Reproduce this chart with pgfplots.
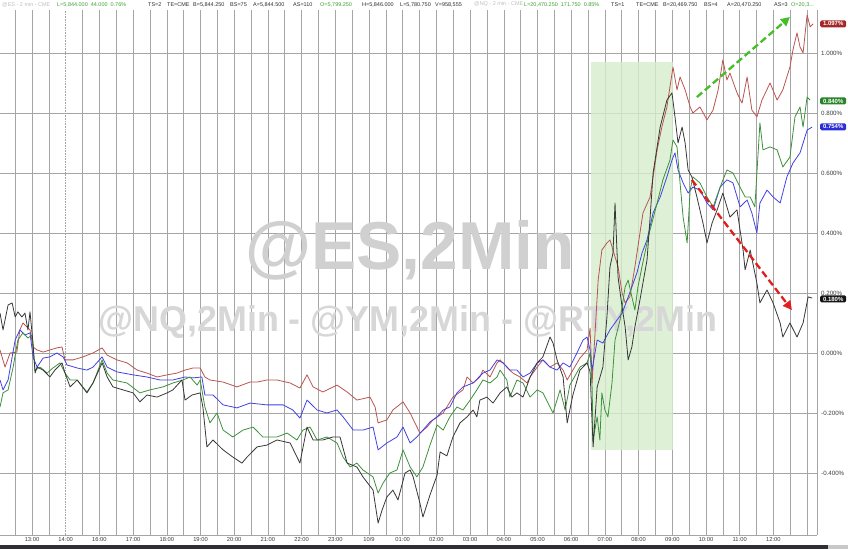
\documentclass[border=0pt]{standalone}
\usepackage{pgfplots}
\pgfplotsset{compat=1.18}
\usepackage{fontspec}
\setmainfont{Liberation Sans}
\usetikzlibrary{arrows.meta}
\definecolor{cred}{RGB}{185,85,80}
\definecolor{cblue}{RGB}{65,65,228}
\definecolor{cgreen}{RGB}{60,145,60}
\definecolor{cblack}{RGB}{55,55,55}
\definecolor{gridc}{RGB}{165,165,165}
\definecolor{hdrgreen}{RGB}{60,160,50}
\definecolor{hdrtxt}{RGB}{45,45,45}
\definecolor{hdrlight}{RGB}{190,190,190}
\definecolor{shade}{RGB}{214,238,205}
\definecolor{wmA}{RGB}{208,208,208}
\definecolor{wmB}{RGB}{215,215,215}
\definecolor{arrG}{RGB}{70,190,40}
\definecolor{arrR}{RGB}{225,30,30}
\definecolor{boxR}{RGB}{165,40,40}
\definecolor{boxG}{RGB}{40,130,40}
\definecolor{boxB}{RGB}{45,45,215}
\definecolor{boxK}{RGB}{20,20,20}
\definecolor{tlab}{RGB}{60,60,60}
\definecolor{barc}{RGB}{48,48,52}
\definecolor{scrollc}{RGB}{200,200,200}
\begin{document}
\begin{tikzpicture}[x=1bp,y=1bp]
\path[use as bounding box] (0,0) rectangle (848,549);
\fill[barc] (0,0) rectangle (848,4);
\fill[scrollc] (828,0) rectangle (848,4);
\begin{axis}[
  at={(0bp,14bp)}, anchor=south west,
  scale only axis, width=817bp, height=525bp,
  xmin=-0.95, xmax=23.294, ymin=-0.6067, ymax=1.1433,
  axis x line*=bottom, axis y line*=right,
  axis line style={gridc, line width=0.6bp},
  clip=false,
  major tick length=0pt, minor tick length=0pt,
  xtick={0,2,3,...,22},
  xticklabels={13:00,16:00,17:00,18:00,19:00,20:00,21:00,22:00,23:00,10/9,01:00,02:00,03:00,04:00,05:00,06:00,07:00,08:00,09:00,10:00,11:00,12:00},
  extra x ticks={1}, extra x tick labels={14:00},
  extra x tick style={major grid style={gridc, densely dotted, line width=0.8bp}},
  minor xtick={-0.5,0.5,...,22.5,23},
  xmajorgrids, xminorgrids, ymajorgrids,
  grid style={gridc, line width=0.6bp},
  minor grid style={gridc, line width=0.6bp},
  ytick={-0.4,-0.2,0,0.2,0.4,0.6,0.8,1.0},
  yticklabels={-0.400\%,-0.200\%,0.000\%,0.200\%,0.400\%,0.600\%,0.800\%,1.000\%},
  xticklabel style={font=\fontsize{5.8}{6}\selectfont, text=tlab, inner sep=0pt, anchor=north, yshift=-2bp},
  yticklabel style={font=\fontsize{6.2}{7}\selectfont, text=tlab, inner sep=0pt, anchor=west, xshift=4bp},
]
% shaded window
\addplot[draw=none, fill=shade, fill opacity=0.8, forget plot] coordinates {(16.59,-0.323) (19.02,-0.323) (19.02,0.970) (16.59,0.970)} -- cycle;
% watermarks
\node[anchor=base, text=wmA, font=\fontsize{68}{70}\selectfont\bfseries] at (axis cs:11.22,0.277) {@ES,2Min};
\node[anchor=base, text=wmB, font=\fontsize{36}{38}\selectfont\bfseries] at (axis cs:11.16,0.073) {@NQ,2Min - @YM,2Min - @RTY,2Min};
% NQ (red)
\addplot[cred, line width=0.8bp, line join=round] coordinates {
(-0.95,0.010) (-0.80,-0.047) (-0.65,0.000) (-0.45,0.003) (-0.36,0.077) (-0.27,0.100) (-0.06,0.077) (0.03,0.020) (0.15,0.010) (0.33,0.003) (0.53,0.010) (0.74,0.017) (0.89,0.020) (0.98,-0.023) (1.22,-0.023) (1.51,-0.013) (1.81,0.000) (2.08,0.017) (2.23,-0.007) (2.52,-0.023) (2.82,-0.033) (3.12,-0.057) (3.41,-0.067) (3.71,-0.080) (4.01,-0.073) (4.30,-0.067) (4.54,-0.057) (4.78,-0.050) (4.99,-0.050) (5.13,-0.080) (5.28,-0.090) (5.67,-0.097) (6.08,-0.113) (6.47,-0.097) (6.68,-0.097) (6.97,-0.090) (7.27,-0.090) (7.66,-0.100) (7.95,-0.117) (8.16,-0.073) (8.34,-0.113) (8.63,-0.130) (9.05,-0.107) (9.35,-0.130) (9.64,-0.157) (10.03,-0.147) (10.18,-0.180) (10.27,-0.233) (10.53,-0.223) (10.71,-0.190) (11.01,-0.163) (11.22,-0.200) (11.51,-0.267) (11.72,-0.247) (11.90,-0.223) (12.20,-0.200) (12.49,-0.147) (12.79,-0.123) (12.91,-0.080) (13.09,-0.100) (13.29,-0.080) (13.38,-0.057) (13.59,-0.080) (13.80,-0.033) (13.89,-0.023) (14.09,-0.047) (14.27,-0.067) (14.48,-0.080) (14.69,-0.100) (14.78,-0.080) (14.99,-0.047) (15.16,-0.023) (15.37,-0.047) (15.58,-0.033) (15.76,-0.057) (15.88,-0.090) (16.05,-0.057) (16.26,-0.017) (16.47,0.010) (16.56,0.083) (16.62,-0.100) (16.80,0.243) (16.91,0.343) (17.06,0.367) (17.15,0.377) (17.39,0.287) (17.51,0.200) (17.60,0.167) (17.74,0.187) (17.89,0.287) (18.04,0.400) (18.13,0.467) (18.34,0.520) (18.55,0.677) (18.69,0.753) (18.84,0.820) (18.93,0.887) (19.02,0.953) (19.14,0.877) (19.23,0.920) (19.38,0.877) (19.53,0.820) (19.61,0.800) (19.82,0.820) (20.03,0.777) (20.21,0.810) (20.36,0.877) (20.50,0.977) (20.62,0.910) (20.71,0.933) (20.92,0.867) (21.07,0.833) (21.22,0.920) (21.36,0.810) (21.51,0.787) (21.66,0.843) (21.90,0.900) (22.11,0.843) (22.28,0.877) (22.49,0.953) (22.58,1.010) (22.70,1.067) (22.79,1.020) (22.88,1.000) (23.00,1.127) (23.09,1.087) (23.18,1.097)
};
% YM (blue)
\addplot[cblue, line width=0.8bp, line join=round] coordinates {
(-0.95,-0.090) (-0.86,-0.123) (-0.71,-0.090) (-0.50,0.043) (-0.36,0.077) (-0.21,0.060) (-0.06,0.067) (0.03,-0.013) (0.15,-0.047) (0.33,-0.017) (0.53,-0.013) (0.74,0.000) (0.92,-0.013) (1.04,-0.040) (1.34,-0.050) (1.63,-0.057) (1.81,-0.047) (2.08,-0.013) (2.23,-0.047) (2.52,-0.063) (3.00,-0.073) (3.41,-0.080) (3.80,-0.090) (4.18,-0.090) (4.54,-0.080) (4.78,-0.083) (5.04,-0.080) (5.13,-0.140) (5.37,-0.140) (5.67,-0.173) (6.08,-0.183) (6.47,-0.167) (6.97,-0.173) (7.45,-0.173) (7.74,-0.190) (7.95,-0.217) (8.16,-0.157) (8.46,-0.190) (8.75,-0.200) (9.05,-0.190) (9.23,-0.213) (9.53,-0.257) (9.82,-0.257) (10.12,-0.247) (10.27,-0.323) (10.53,-0.300) (10.83,-0.280) (11.01,-0.247) (11.22,-0.300) (11.42,-0.280) (11.60,-0.257) (11.81,-0.230) (12.02,-0.213) (12.20,-0.190) (12.40,-0.180) (12.61,-0.133) (12.79,-0.113) (13.09,-0.100) (13.38,-0.067) (13.59,-0.057) (13.80,-0.023) (13.98,-0.033) (14.18,-0.057) (14.39,-0.057) (14.57,-0.080) (14.78,-0.067) (14.99,-0.033) (15.16,-0.023) (15.37,-0.047) (15.58,-0.057) (15.76,-0.033) (15.96,-0.047) (16.17,0.000) (16.35,0.043) (16.47,0.053) (16.56,0.010) (16.62,-0.057) (16.77,0.043) (16.94,0.033) (17.15,0.077) (17.36,0.110) (17.51,0.133) (17.66,0.177) (17.80,0.220) (17.95,0.267) (18.10,0.333) (18.25,0.377) (18.43,0.467) (18.64,0.520) (18.84,0.587) (18.99,0.643) (19.08,0.667) (19.17,0.610) (19.32,0.567) (19.47,0.533) (19.61,0.553) (19.82,0.543) (20.03,0.500) (20.21,0.477) (20.42,0.553) (20.62,0.577) (20.80,0.567) (21.01,0.487) (21.22,0.510) (21.36,0.467) (21.51,0.400) (21.60,0.500) (21.81,0.543) (21.99,0.520) (22.20,0.500) (22.40,0.587) (22.58,0.633) (22.79,0.667) (23.00,0.743) (23.15,0.753)
};
% RTY (green)
\addplot[cgreen, line width=0.8bp, line join=round] coordinates {
(-0.95,-0.180) (-0.86,-0.133) (-0.71,-0.123) (-0.56,-0.047) (-0.42,0.043) (-0.27,0.067) (-0.12,0.050) (0.00,0.060) (0.09,-0.057) (0.24,-0.047) (0.45,-0.067) (0.62,-0.050) (0.83,-0.033) (0.98,-0.067) (1.13,-0.090) (1.34,-0.090) (1.63,-0.130) (1.81,-0.100) (2.08,-0.023) (2.23,-0.067) (2.40,-0.090) (2.82,-0.100) (3.20,-0.133) (3.50,-0.123) (3.89,-0.113) (4.18,-0.100) (4.48,-0.090) (4.69,-0.080) (4.90,-0.107) (4.99,-0.090) (5.13,-0.180) (5.28,-0.233) (5.49,-0.200) (5.67,-0.257) (5.96,-0.280) (6.26,-0.257) (6.56,-0.247) (6.85,-0.280) (7.27,-0.280) (7.57,-0.267) (7.86,-0.290) (8.04,-0.257) (8.25,-0.247) (8.46,-0.290) (8.75,-0.280) (9.05,-0.300) (9.23,-0.347) (9.44,-0.380) (9.64,-0.367) (9.82,-0.390) (10.12,-0.413) (10.27,-0.467) (10.42,-0.433) (10.62,-0.400) (10.83,-0.390) (11.01,-0.323) (11.22,-0.380) (11.42,-0.413) (11.60,-0.380) (11.81,-0.307) (12.02,-0.240) (12.20,-0.257) (12.40,-0.213) (12.61,-0.180) (12.79,-0.190) (13.00,-0.157) (13.20,-0.123) (13.38,-0.090) (13.59,-0.100) (13.80,-0.080) (13.89,-0.057) (14.09,-0.090) (14.18,-0.147) (14.39,-0.090) (14.57,-0.100) (14.78,-0.147) (14.99,-0.123) (15.16,-0.133) (15.37,-0.180) (15.46,-0.200) (15.67,-0.123) (15.82,-0.190) (15.96,-0.107) (16.26,-0.047) (16.47,-0.033) (16.56,0.000) (16.62,-0.113) (16.65,-0.290) (16.77,-0.213) (16.85,-0.290) (16.91,-0.133) (17.00,-0.190) (17.09,-0.213) (17.21,-0.100) (17.30,0.043) (17.45,0.110) (17.60,0.220) (17.69,0.243) (17.80,0.187) (17.89,0.143) (17.98,0.220) (18.10,0.287) (18.25,0.367) (18.34,0.410) (18.55,0.500) (18.72,0.577) (18.93,0.643) (19.02,0.710) (19.14,0.687) (19.23,0.567) (19.32,0.453) (19.44,0.367) (19.53,0.543) (19.61,0.587) (19.82,0.567) (20.03,0.520) (20.21,0.487) (20.42,0.553) (20.62,0.610) (20.80,0.600) (21.01,0.553) (21.16,0.520) (21.31,0.520) (21.45,0.487) (21.60,0.767) (21.69,0.677) (21.90,0.687) (22.11,0.677) (22.28,0.620) (22.49,0.653) (22.64,0.787) (22.79,0.820) (22.88,0.753) (23.00,0.853) (23.09,0.843)
};
% ES (black)
\addplot[cblack, line width=0.8bp, line join=round] coordinates {
(-0.95,0.133) (-0.86,0.077) (-0.71,0.160) (-0.59,0.167) (-0.50,0.120) (-0.42,0.137) (-0.30,0.120) (-0.21,0.133) (-0.12,0.077) (-0.06,0.137) (0.03,0.033) (0.09,-0.067) (0.15,-0.047) (0.33,-0.057) (0.53,-0.080) (0.68,-0.057) (0.89,-0.033) (0.98,-0.067) (1.13,-0.113) (1.34,-0.090) (1.63,-0.133) (1.81,-0.100) (2.08,-0.033) (2.23,-0.080) (2.40,-0.113) (2.70,-0.123) (3.00,-0.133) (3.20,-0.163) (3.41,-0.140) (3.71,-0.147) (4.01,-0.133) (4.18,-0.123) (4.45,-0.090) (4.54,-0.157) (4.75,-0.140) (4.99,-0.133) (5.07,-0.180) (5.19,-0.313) (5.37,-0.290) (5.67,-0.323) (5.96,-0.347) (6.23,-0.367) (6.38,-0.347) (6.68,-0.313) (6.97,-0.307) (7.27,-0.290) (7.66,-0.300) (7.95,-0.367) (8.16,-0.247) (8.34,-0.290) (8.63,-0.290) (8.93,-0.280) (9.14,-0.280) (9.35,-0.367) (9.64,-0.380) (9.82,-0.413) (10.12,-0.457) (10.27,-0.567) (10.39,-0.523) (10.53,-0.480) (10.71,-0.457) (10.86,-0.490) (11.07,-0.400) (11.22,-0.390) (11.31,-0.413) (11.51,-0.500) (11.60,-0.547) (11.81,-0.473) (12.02,-0.407) (12.11,-0.330) (12.31,-0.343) (12.49,-0.280) (12.70,-0.233) (12.91,-0.213) (13.09,-0.190) (13.20,-0.213) (13.29,-0.157) (13.50,-0.147) (13.68,-0.167) (13.89,-0.133) (14.09,-0.113) (14.24,-0.147) (14.39,-0.133) (14.57,-0.147) (14.78,-0.080) (14.99,-0.033) (15.16,-0.013) (15.37,0.053) (15.46,0.033) (15.58,-0.023) (15.76,-0.080) (15.88,-0.233) (16.05,-0.140) (16.26,-0.057) (16.35,-0.047) (16.47,-0.033) (16.56,-0.063) (16.65,-0.313) (16.77,-0.113) (16.94,-0.047) (17.06,0.120) (17.15,0.287) (17.24,0.333) (17.30,0.500) (17.39,0.253) (17.51,0.153) (17.60,0.087) (17.69,-0.023) (17.80,0.020) (17.89,0.087) (18.04,0.177) (18.25,0.310) (18.34,0.450) (18.43,0.600) (18.64,0.753) (18.84,0.843) (18.99,0.867) (19.08,0.787) (19.17,0.700) (19.29,0.753) (19.38,0.700) (19.47,0.610) (19.58,0.587) (19.73,0.520) (19.91,0.433) (20.03,0.367) (20.18,0.433) (20.33,0.477) (20.50,0.533) (20.71,0.453) (20.92,0.477) (21.10,0.343) (21.16,0.277) (21.31,0.343) (21.51,0.233) (21.60,0.167) (21.81,0.210) (21.99,0.167) (22.20,0.100) (22.28,0.053) (22.49,0.100) (22.70,0.053) (22.88,0.100) (23.03,0.187) (23.15,0.183)
};
% arrows
\draw[arrG, line width=2.3bp, dash pattern=on 7bp off 3.5bp, -{Triangle[length=9bp,width=9bp]}] (axis cs:19.73,0.853) -- (axis cs:22.49,1.120);
\draw[arrR, line width=2.3bp, dash pattern=on 7bp off 3.5bp, -{Triangle[length=9bp,width=9bp]}] (axis cs:19.58,0.577) -- (axis cs:22.55,0.143);
% last-value boxes
\tikzset{lastbox/.style={anchor=west, xshift=3bp, text=white, font=\fontsize{6}{6.5}\selectfont\bfseries, rounded corners=1.5bp, inner xsep=2.3bp, inner ysep=1.4bp, minimum width=26bp}}
\node[lastbox, fill=boxR] at (axis cs:23.294,1.097) {1.097\%};
\node[lastbox, fill=boxG] at (axis cs:23.294,0.840) {0.840\%};
\node[lastbox, fill=boxB] at (axis cs:23.294,0.754) {0.754\%};
\node[lastbox, fill=boxK] at (axis cs:23.294,0.180) {0.180\%};
\end{axis}
% header
\begin{scope}[every node/.style={anchor=west, inner sep=0pt, font=\fontsize{5.5}{6}\selectfont}]
\node[text=hdrlight] at (2,544.5) {@ES - 2 min - CME};
\node[text=hdrgreen] at (57,544.5) {L=5,844.000\ \ 44.000\ \ 0.76\%};
\node[text=hdrtxt] at (148,544.5) {TS=2};
\node[text=hdrtxt] at (167,544.5) {TE=CME};
\node[text=hdrtxt] at (193,544.5) {B=5,844.250};
\node[text=hdrtxt] at (230,544.5) {BS=75};
\node[text=hdrtxt] at (253,544.5) {A=5,844.500};
\node[text=hdrtxt] at (293,544.5) {AS=110};
\node[text=hdrgreen] at (320,544.5) {O=5,799.250};
\node[text=hdrtxt] at (362,544.5) {H=5,846.000};
\node[text=hdrtxt] at (400,544.5) {L=5,780.750};
\node[text=hdrtxt] at (435,544.5) {V=958,555};
\node[text=hdrlight] at (474,544.5) {@NQ - 2 min - CME};
\node[text=hdrgreen] at (524,544.5) {L=20,470.250\ \ 171.750\ \ 0.85\%};
\node[text=hdrtxt] at (611,544.5) {TS=1};
\node[text=hdrtxt] at (636,544.5) {TE=CME};
\node[text=hdrtxt] at (663,544.5) {B=20,469.750};
\node[text=hdrtxt] at (704,544.5) {BS=4};
\node[text=hdrtxt] at (727,544.5) {A=20,470.250};
\node[text=hdrtxt] at (774,544.5) {AS=3};
\node[text=hdrgreen] at (791,544.5) {O=20,3...};
\end{scope}
\end{tikzpicture}
\end{document}
